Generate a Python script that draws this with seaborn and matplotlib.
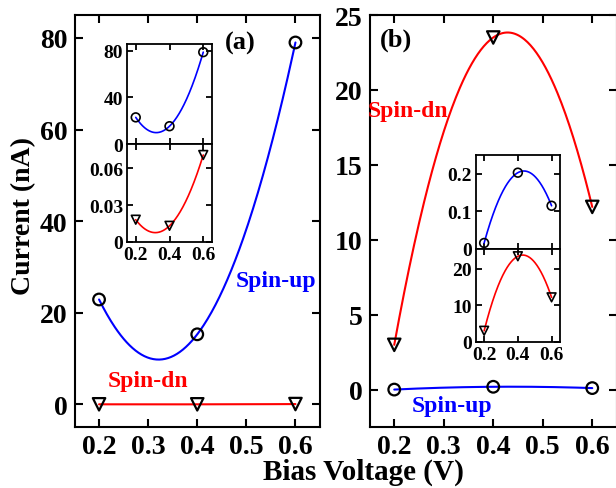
import numpy as np
import pandas as pd
import matplotlib
matplotlib.use("Agg")
import matplotlib.pyplot as plt
import seaborn as sns

# ---------------- data ----------------
bias = [0.2, 0.4, 0.6]
a_spin_up = [22.9, 15.3, 79.0]
a_spin_dn = [0.018, 0.013, 0.071]
b_spin_up = [0.016, 0.203, 0.115]
b_spin_dn = [3.0, 23.5, 12.2]

main_xticks = [0.2, 0.3, 0.4, 0.5, 0.6]
main_xticklabels = ["0.2", "0.3", "0.4", "0.5", "0.6"]
a_yticks = [0, 20, 40, 60, 80]
b_yticks = [0, 5, 10, 15, 20, 25]
inset_xticks = [0.2, 0.4, 0.6]
inset_xticklabels = ["0.2", "0.4", "0.6"]
ia_up_ticks = [0, 40, 80]
ia_up_labels = ["0", "40", "80"]
ia_dn_ticks = [0, 0.03, 0.06]
ia_dn_labels = ["0", "0.03", "0.06"]
ib_up_ticks = [0, 0.1, 0.2]
ib_up_labels = ["0", "0.1", "0.2"]
ib_dn_ticks = [0, 10, 20]
ib_dn_labels = ["0", "10", "20"]

# ---------------- style ----------------
sns.set_style("ticks")
plt.rcParams["font.family"] = ["Liberation Serif", "DejaVu Serif"]
plt.rcParams["font.weight"] = "bold"

W, H = 616, 489
fig = plt.figure(figsize=(W / 100, H / 100), dpi=100)


def rect(l, t, r, b):
    return [l / W, 1 - b / H, (r - l) / W, (b - t) / H]


def smooth(x, y):
    coef = np.polyfit(x, y, 2)
    xs = np.linspace(min(x), max(x), 200)
    return pd.DataFrame({"x": xs, "y": np.polyval(coef, xs)})


def style_axes(ax, lw, tlen, tsize, pad):
    for s in ax.spines.values():
        s.set_linewidth(lw)
        s.set_color("black")
    ax.tick_params(direction="in", length=tlen, width=lw, top=True, right=True,
                   labelsize=tsize, pad=pad, colors="black")
    ax.set_xlabel("")
    ax.set_ylabel("")
    ax.grid(False)


def draw(ax, x, y, color, marker, lw, s, mew):
    d = smooth(x, y)
    sns.lineplot(data=d, x="x", y="y", ax=ax, color=color, linewidth=lw,
                 estimator=None, sort=False, zorder=2)
    pts = pd.DataFrame({"x": x, "y": y})
    sns.scatterplot(data=pts, x="x", y="y", ax=ax, marker=marker, s=s,
                    facecolor="none", edgecolor="black", linewidth=mew, zorder=3)


# ---------------- main panels ----------------
ax_a = fig.add_axes(rect(74.5, 16, 320, 428.3))
ax_b = fig.add_axes(rect(369.5, 16, 617, 428.3))

draw(ax_a, bias, a_spin_up, "blue", "o", 1.5, 70, 1.6)
draw(ax_a, bias, a_spin_dn, "red", "v", 1.5, 80, 1.6)
ax_a.set_xlim(0.15, 0.65)
ax_a.set_ylim(-5, 85)
ax_a.set_xticks(main_xticks, main_xticklabels)
ax_a.set_yticks(a_yticks, [str(v) for v in a_yticks])
style_axes(ax_a, 1.5, 6, 20, 5)

draw(ax_b, bias, b_spin_dn, "red", "v", 1.5, 80, 1.6)
draw(ax_b, bias, b_spin_up, "blue", "o", 1.5, 70, 1.6)
ax_b.set_xlim(0.15, 0.65)
ax_b.set_ylim(-2.5, 25)
ax_b.set_xticks(main_xticks, main_xticklabels)
ax_b.set_yticks(b_yticks, [str(v) for v in b_yticks])
style_axes(ax_b, 1.5, 6, 20, 5)

# ---------------- insets ----------------
def inset(r, x, y, color, marker, yl, yt, ylab, bottom):
    ax = fig.add_axes(r)
    draw(ax, x, y, color, marker, 1.2, 40, 1.2)
    ax.set_xlim(0.15, 0.65)
    ax.set_ylim(*yl)
    ax.set_xticks(inset_xticks, inset_xticklabels if bottom else [])
    ax.set_yticks(yt, ylab)
    style_axes(ax, 1.3, 4, 14, 3)
    return ax

inset(rect(127.3, 45, 211.7, 145), bias, a_spin_up, "blue", "o", (0, 86), ia_up_ticks, ia_up_labels, False)
inset(rect(127.3, 145, 211.7, 242.7), bias, a_spin_dn, "red", "v", (0, 0.08), ia_dn_ticks, ia_dn_labels, True)
inset(rect(475.7, 156, 560, 250), bias, b_spin_up, "blue", "o", (0, 0.25), ib_up_ticks, ib_up_labels, False)
inset(rect(475.7, 250, 560, 342.7), bias, b_spin_dn, "red", "v", (0, 25.5), ib_dn_ticks, ib_dn_labels, True)

# ---------------- texts ----------------
def ftext(x, y, s, **kw):
    fig.text(x / W, 1 - y / H, s, ha="center", va="center", fontweight="bold", **kw)

ftext(240, 43, "(a)", fontsize=19, color="black")
ftext(396, 40, "(b)", fontsize=19, color="black")
ftext(276, 282, "Spin-up", fontsize=17, color="blue")
ftext(148, 382, "Spin-dn", fontsize=17, color="red")
ftext(408, 112, "Spin-dn", fontsize=17, color="red")
ftext(452, 407, "Spin-up", fontsize=17, color="blue")
ftext(24, 216, "Current (nA)", fontsize=20, rotation=90, color="black")
ftext(363, 472, "Bias Voltage (V)", fontsize=21, color="black")

fig.savefig("out.png", dpi=100)
